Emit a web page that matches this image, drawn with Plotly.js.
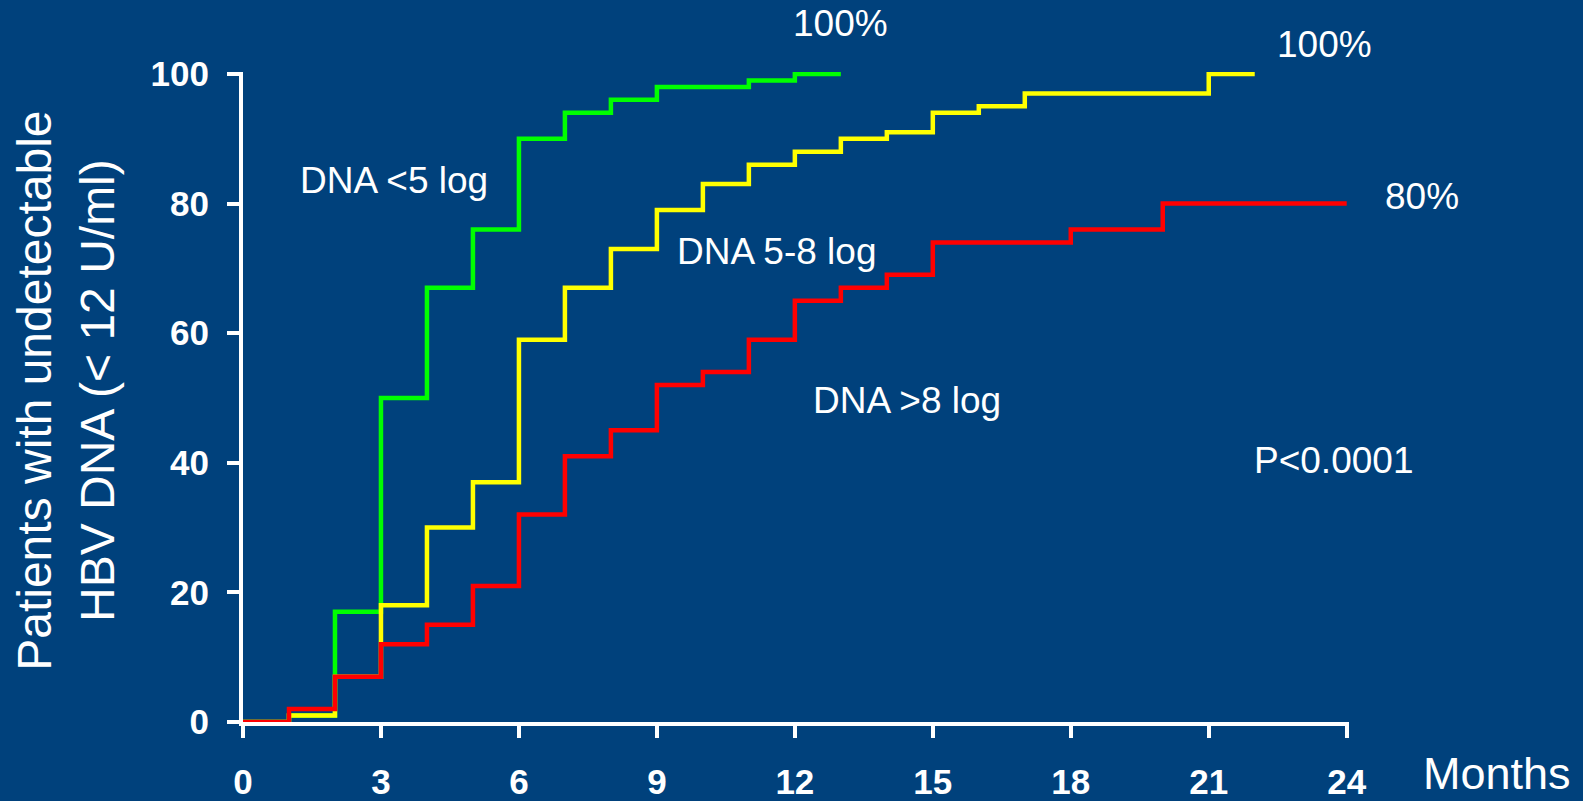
<!DOCTYPE html>
<html>
<head>
<meta charset="utf-8">
<script src="https://cdn.plot.ly/plotly-3.0.1.min.js"></script>
<style>html,body{margin:0;padding:0;background:#00417c;}#chart{width:1583px;height:801px;}</style>
</head>
<body>
<div id="chart"></div>
<script>
// Months (step start points)
const greenMonths  = [0, 1, 2, 3, 4, 5, 6, 7, 8, 9, 11, 12, 13];
const greenValues  = [0, 1, 17, 50, 67, 76, 90, 94, 96, 98, 99, 100, 100];

const yellowMonths = [0, 1, 2, 3, 4, 5, 6, 7, 8, 9, 10, 11, 12, 13, 14, 15, 16, 17, 21, 22];
const yellowValues = [0, 1, 7, 18, 30, 37, 59, 67, 73, 79, 83, 86, 88, 90, 91, 94, 95, 97, 100, 100];

const redMonths    = [0, 1, 2, 3, 4, 5, 6, 7, 8, 9, 10, 11, 12, 13, 14, 15, 18, 20, 24];
const redValues    = [0, 2, 7, 12, 15, 21, 32, 41, 45, 52, 54, 59, 65, 67, 69, 74, 76, 80, 80];

const xTicks = [0, 3, 6, 9, 12, 15, 18, 21, 24];
const yTicks = [0, 20, 40, 60, 80, 100];

const groupLabels = ["DNA <5 log", "DNA 5-8 log", "DNA >8 log"];
const endLabels = ["100%", "100%", "80%"];
const pLabel = "P<0.0001";
const xTitle = "Months";
const yTitle = "Patients with undetectable<br>HBV DNA (< 12 U/ml)";

const bg = "#00417c";
const font = "Liberation Sans, Arial, sans-serif";

function stepTrace(x, y, color) {
  return {x: x, y: y, type: "scatter", mode: "lines",
          line: {shape: "hv", color: color, width: 4.5}, hoverinfo: "skip", showlegend: false};
}

const data = [
  stepTrace(greenMonths, greenValues, "#00ff00"),
  stepTrace(yellowMonths, yellowValues, "#ffff00"),
  stepTrace(redMonths, redValues, "#ff0000")
];

function ann(text, x, y, size) {
  return {text: text, xref: "paper", yref: "paper", x: x, y: y,
          xanchor: "center", yanchor: "middle", showarrow: false,
          font: {family: font, size: size, color: "#ffffff"}};
}

const annotations = [
  ann(endLabels[0], 0.5398, 1.074, 37),
  ann(endLabels[1], 0.9783, 1.0423, 37),
  ann(endLabels[2], 1.066, 0.8083, 37),
  ann(groupLabels[0], 0.1365, 0.833, 37),
  ann(groupLabels[1], 0.4826, 0.7244, 37),
  ann(groupLabels[2], 0.6006, 0.4942, 37),
  ann(pLabel, 0.9862, 0.4025, 37),
  ann(xTitle, 1.1338, -0.0785, 45),
  Object.assign(ann(yTitle, -0.160, 0.5096, 48), {textangle: -90})
];

const axisCommon = {
  showline: true, linecolor: "#ffffff", linewidth: 4,
  showgrid: false, zeroline: false,
  ticks: "outside", ticklen: 12, tickwidth: 4, tickcolor: "#ffffff",
  tickfont: {family: font, size: 35, color: "#ffffff", weight: "bold"},
  layer: "below traces", fixedrange: true
};

const layout = {
  width: 1583, height: 801,
  paper_bgcolor: bg, plot_bgcolor: bg,
  margin: {l: 243, r: 234, t: 72, b: 79, autoexpand: false},
  xaxis: Object.assign({}, axisCommon, {range: [0, 24.05], tickvals: xTicks, ticktext: xTicks.map(String), ticklabelstandoff: 14}),
  yaxis: Object.assign({}, axisCommon, {range: [0, 100.3], tickvals: yTicks, ticktext: yTicks.map(String), ticklabelstandoff: 11}),
  annotations: annotations,
  showlegend: false
};

Plotly.newPlot("chart", data, layout, {displayModeBar: false, staticPlot: true});
</script>
</body>
</html>
